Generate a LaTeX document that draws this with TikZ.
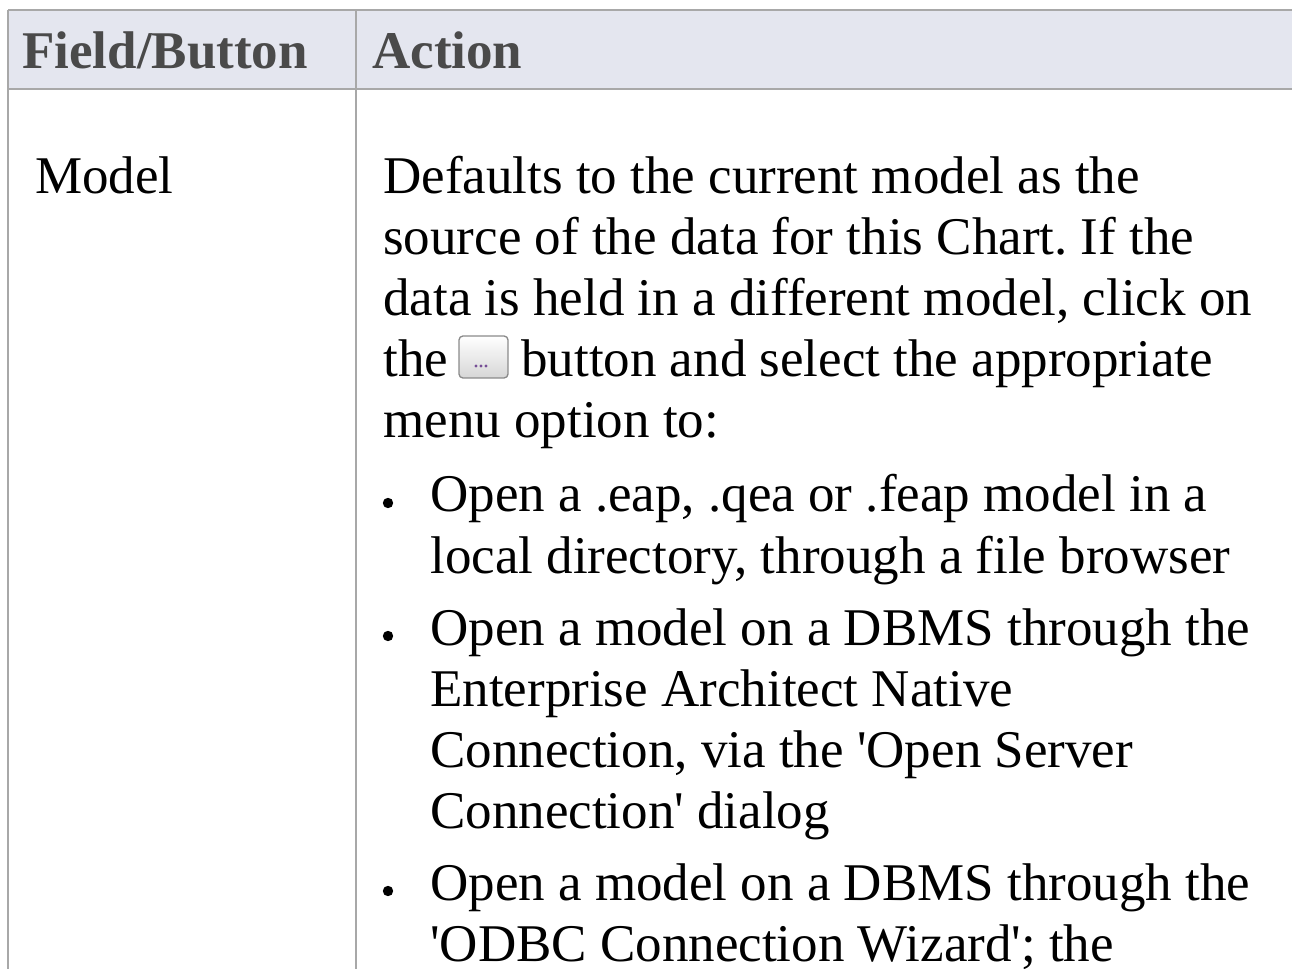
\documentclass[tikz,border=0pt]{standalone}
\usepackage{fontspec}
\setmainfont{Liberation Serif}
\usepackage{xcolor}
\usepackage{tikz}
\frenchspacing

\definecolor{headfill}{RGB}{228,230,239}
\definecolor{headink}{RGB}{74,74,74}
\definecolor{rulegray}{RGB}{168,168,168}
\definecolor{btnedge}{RGB}{138,138,138}
\definecolor{btndots}{RGB}{118,78,150}

\tikzset{
  celltext/.style={anchor=base west, inner sep=0pt, font=\fontsize{39.75}{46}\selectfont},
  headlabel/.style={celltext, text=headink, font=\fontsize{39.75}{46}\selectfont\bfseries},
  btnbox/.style={draw=btnedge, line width=1, rounded corners=3pt, top color=white, bottom color=black!16, minimum width=36.75pt, minimum height=31.5pt, inner sep=0pt}
}

\begin{document}
\begin{tikzpicture}[x=0.75pt,y=0.75pt,yscale=-1,xscale=1]
    \useasboundingbox (0,0) rectangle (1292,969);
    % header row
    \fill [headfill] (8,10) rectangle (1292,89);
    \draw [rulegray, line width=1.5] (8,10) -- (1292,10) ;
    \draw [rulegray, line width=1.5] (8,89) -- (1292,89) ;
    \draw [rulegray, line width=1.5] (8,10) -- (8,969) ;
    \draw [rulegray, line width=1.5] (356,10) -- (356,969) ;
    \draw (22,69) node (hfield) [headlabel] {Field/Button};
    \draw (372,69) node (haction) [headlabel] {Action};
    % first column
    \draw (35,194) node (model) [celltext] {Model};
    % second column
    \draw (383,194) node (desc1) [celltext] {Defaults to the current model as the};
    \draw (383,255) node (desc2) [celltext] {source of the data for this Chart. If the};
    \draw (383,316) node (desc3) [celltext] {data is held in a different model, click on};
    \draw (383,377) node (desc4a) [celltext] {the};
    \draw (483.5,357) node (btn) [btnbox] {};
    \fill [btndots] (476,366) circle (1.2pt) ;
    \fill [btndots] (481,366) circle (1.2pt) ;
    \fill [btndots] (486,366) circle (1.2pt) ;
    \draw (521,377) node (desc4b) [celltext] {button and select the appropriate};
    \draw (383,438) node (desc5) [celltext] {menu option to:};
    % bullet items
    \fill (388,503) circle (3.9pt) ;
    \draw (430,512) node (opta1) [celltext] {Open a .eap, .qea or .feap model in a};
    \draw (430,573) node (opta2) [celltext] {local directory, through a file browser};
    \fill (388,636) circle (3.9pt) ;
    \draw (430,645) node (optb1) [celltext] {Open a model on a DBMS through the};
    \draw (430,706) node (optb2) [celltext] {Enterprise Architect Native};
    \draw (430,767) node (optb3) [celltext] {Connection, via the \textquotesingle Open Server};
    \draw (430,828) node (optb4) [celltext] {Connection\textquotesingle{} dialog};
    \fill (388,891) circle (3.9pt) ;
    \draw (430,900) node (optc1) [celltext] {Open a model on a DBMS through the};
    \draw (430,961) node (optc2) [celltext] {\textquotesingle ODBC Connection Wizard\textquotesingle; the};
\end{tikzpicture}
\end{document}
